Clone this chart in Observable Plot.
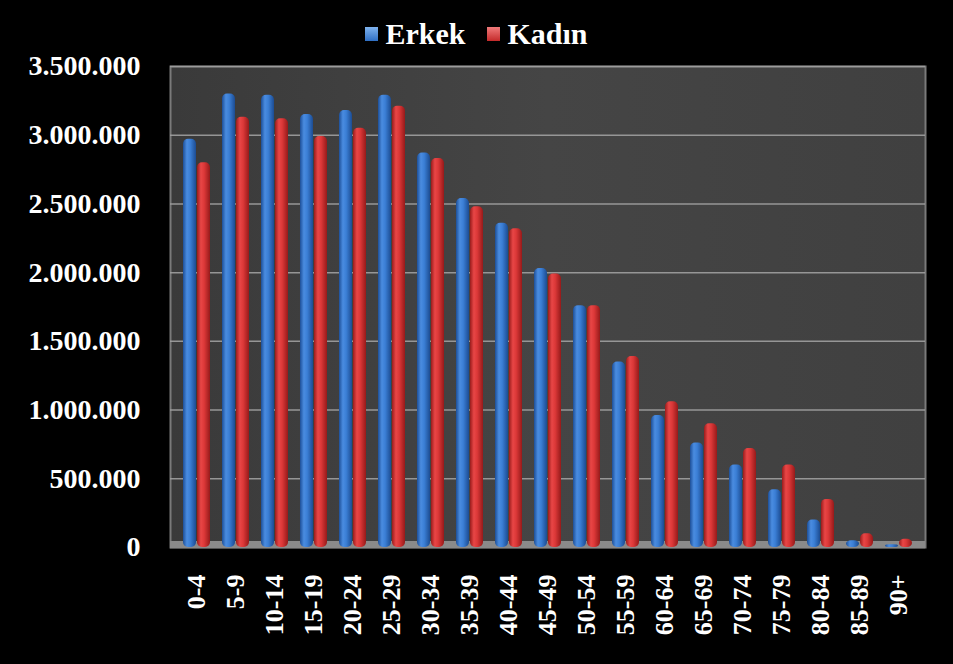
<!DOCTYPE html>
<html>
<head>
<meta charset="utf-8">
<script src="https://cdn.jsdelivr.net/npm/d3@7"></script>
<script src="https://cdn.jsdelivr.net/npm/@observablehq/plot@0.6"></script>
<style>
  html, body { margin: 0; padding: 0; background: #000; }
  #legend { height: 50px; display: flex; justify-content: center; align-items: flex-end; gap: 22px;
    font-family: "Liberation Serif", "Times New Roman", serif; font-weight: bold; font-size: 30px; color: #fff; box-sizing: border-box; line-height: 1; padding-bottom: 1px; }
  #legend .item { display: flex; align-items: center; gap: 7px; }
  #legend .sw { width: 13px; height: 14px; display: inline-block; }
  #chart svg { display: block; }
</style>
</head>
<body>
<div id="legend"></div>
<div id="chart"></div>
<script>
const ages = ["0-4","5-9","10-14","15-19","20-24","25-29","30-34","35-39","40-44","45-49","50-54","55-59","60-64","65-69","70-74","75-79","80-84","85-89","90+"];
const erkek = [2970000,3300000,3290000,3150000,3180000,3290000,2870000,2540000,2360000,2030000,1760000,1350000,960000,760000,600000,420000,200000,50000,20000];
const kadin = [2800000,3130000,3120000,2990000,3050000,3210000,2830000,2480000,2320000,1990000,1760000,1390000,1060000,900000,720000,600000,350000,100000,60000];
const seriesNames = ["Erkek","Kadın"];
const yTicks = [0,500000,1000000,1500000,2000000,2500000,3000000,3500000];

const dataE = ages.map((a,i)=>({age:a, sex:"Erkek", value:erkek[i]}));
const dataK = ages.map((a,i)=>({age:a, sex:"Kadın", value:kadin[i]}));

// legend
const legend = document.getElementById("legend");
const swatchFill = {"Erkek":"linear-gradient(180deg,#7fb3ee,#2f6fc4)","Kadın":"linear-gradient(180deg,#f07a7a,#c42a2a)"};
seriesNames.forEach(n=>{
  const it = document.createElement("span"); it.className="item";
  const sw = document.createElement("span"); sw.className="sw"; sw.style.background = swatchFill[n];
  const t = document.createElement("span"); t.textContent = n;
  it.append(sw,t); legend.append(it);
});

const fmt = d => d3.format(",")(d).replace(/,/g,".");
const font = {fontFamily:"Liberation Serif, Times New Roman, serif", fontWeight:"bold", fill:"#fff"};

const svg = Plot.plot({
  width: 953,
  height: 614,
  marginTop: 16,
  marginBottom: 117,
  marginLeft: 170,
  marginRight: 28,
  style: {background:"#000", color:"#fff", fontFamily:"Liberation Serif, serif"},
  x: {type:"band", domain: ages, paddingInner: 0.3, paddingOuter: 0.15},
  y: {domain:[0,3500000]},
  marks: [
    Plot.frame({fill:"url(#gBg)", stroke:"#7a7a7a", strokeWidth:2}),
    Plot.gridY(yTicks, {stroke:"#a0a0a0", strokeOpacity:0.9, strokeWidth:1.5}),
    Plot.ruleY([0], {stroke:"#8a8a8a", strokeWidth:7, dy:-3}),
    Plot.barY(dataE, {x:"age", y:"value", fill:"url(#gBlue)", insetRight:14, rx:5}),
    Plot.barY(dataK, {x:"age", y:"value", fill:"url(#gRed)", insetLeft:14, rx:5}),
    Plot.axisY(yTicks, {tickFormat: fmt, tickSize:0, tickPadding:30, label:null, fontSize:28, ...font}),
    Plot.axisX({tickRotate:-90, tickSize:0, tickPadding:27, label:null, fontSize:26, ...font})
  ]
});

const defs = d3.select(svg).insert("defs", ":first-child");
function grad(id, stops, x2="100%", y2="0%") {
  const g = defs.append("linearGradient").attr("id", id).attr("x1","0%").attr("y1","0%").attr("x2",x2).attr("y2",y2);
  stops.forEach(([o,c])=>g.append("stop").attr("offset",o).attr("stop-color",c));
}
grad("gBlue", [["0%","#1d4f98"],["30%","#4a8ce0"],["55%","#3b7fd6"],["100%","#1c4c92"]]);
grad("gRed", [["0%","#9a1c1c"],["30%","#e84646"],["55%","#dc3838"],["100%","#961a1a"]]);
grad("gBg", [["0%","#3a3a3a"],["50%","#454545"],["100%","#404040"]], "100%", "0%");

document.getElementById("chart").append(svg);
</script>
</body>
</html>
